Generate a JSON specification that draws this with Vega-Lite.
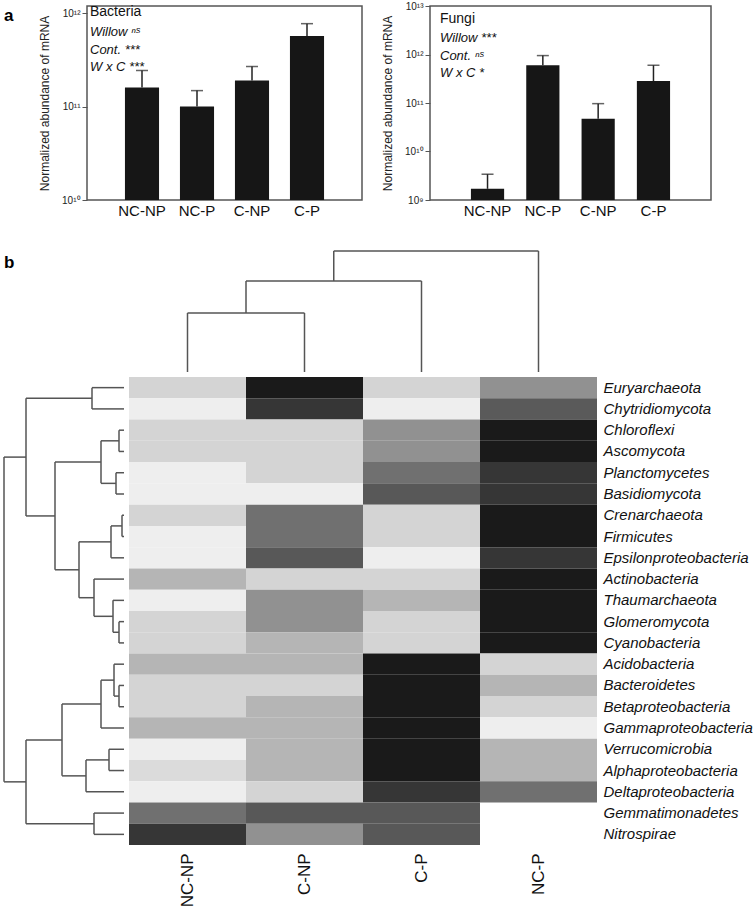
{
  "$schema": "https://vega.github.io/schema/vega-lite/v6.json",
  "background": "white",
  "padding": {"left": 3, "top": 0, "right": 0, "bottom": 0},
  "config": {
    "font": "Liberation Sans",
    "view": {"stroke": null},
    "axis": {"labelFont": "Liberation Sans", "titleFont": "Liberation Sans"},
    "title": {"font": "Liberation Sans", "subtitleFont": "Liberation Sans"}
  },
  "datasets": {
    "bacteria": [
      {"treatment": "NC-NP", "mean": 1.6e11, "upper": 2.43e11},
      {"treatment": "NC-P", "mean": 1.0e11, "upper": 1.48e11},
      {"treatment": "C-NP", "mean": 1.9e11, "upper": 2.68e11},
      {"treatment": "C-P", "mean": 5.7e11, "upper": 7.7e11}
    ],
    "fungi": [
      {"treatment": "NC-NP", "mean": 1.7e9, "upper": 3.4e9},
      {"treatment": "NC-P", "mean": 6.0e11, "upper": 9.5e11},
      {"treatment": "C-NP", "mean": 4.75e10, "upper": 9.7e10},
      {"treatment": "C-P", "mean": 2.84e11, "upper": 6.0e11}
    ],
    "topTree": [
      {"x1": 0.5, "x2": 0.5, "h1": 0, "h2": 59},
      {"x1": 1.5, "x2": 1.5, "h1": 0, "h2": 59},
      {"x1": 0.5, "x2": 1.5, "h1": 59, "h2": 59},
      {"x1": 1.0, "x2": 1.0, "h1": 59, "h2": 91},
      {"x1": 2.5, "x2": 2.5, "h1": 0, "h2": 91},
      {"x1": 1.0, "x2": 2.5, "h1": 91, "h2": 91},
      {"x1": 1.75, "x2": 1.75, "h1": 91, "h2": 121},
      {"x1": 3.5, "x2": 3.5, "h1": 0, "h2": 121},
      {"x1": 1.75, "x2": 3.5, "h1": 121, "h2": 121}
    ],
    "leftTree": [
      {"h1": 32, "h2": 32, "r1": 0.5, "r2": 1.5}, {"h1": 32, "h2": 0, "r1": 0.5, "r2": 0.5}, {"h1": 32, "h2": 0, "r1": 1.5, "r2": 1.5},
      {"h1": 5, "h2": 5, "r1": 2.5, "r2": 3.5}, {"h1": 5, "h2": 0, "r1": 2.5, "r2": 2.5}, {"h1": 5, "h2": 0, "r1": 3.5, "r2": 3.5},
      {"h1": 8, "h2": 8, "r1": 4.5, "r2": 5.5}, {"h1": 8, "h2": 0, "r1": 4.5, "r2": 4.5}, {"h1": 8, "h2": 0, "r1": 5.5, "r2": 5.5},
      {"h1": 23, "h2": 23, "r1": 3, "r2": 5}, {"h1": 23, "h2": 5, "r1": 3, "r2": 3}, {"h1": 23, "h2": 8, "r1": 5, "r2": 5},
      {"h1": 2, "h2": 2, "r1": 6.5, "r2": 7.5}, {"h1": 2, "h2": 0, "r1": 6.5, "r2": 6.5}, {"h1": 2, "h2": 0, "r1": 7.5, "r2": 7.5},
      {"h1": 13, "h2": 13, "r1": 7, "r2": 8.5}, {"h1": 13, "h2": 2, "r1": 7, "r2": 7}, {"h1": 13, "h2": 0, "r1": 8.5, "r2": 8.5},
      {"h1": 5, "h2": 5, "r1": 11.5, "r2": 12.5}, {"h1": 5, "h2": 0, "r1": 11.5, "r2": 11.5}, {"h1": 5, "h2": 0, "r1": 12.5, "r2": 12.5},
      {"h1": 11, "h2": 11, "r1": 10.5, "r2": 12}, {"h1": 11, "h2": 0, "r1": 10.5, "r2": 10.5}, {"h1": 11, "h2": 5, "r1": 12, "r2": 12},
      {"h1": 30, "h2": 30, "r1": 9.5, "r2": 11.25}, {"h1": 30, "h2": 0, "r1": 9.5, "r2": 9.5}, {"h1": 30, "h2": 11, "r1": 11.25, "r2": 11.25},
      {"h1": 45, "h2": 45, "r1": 7.75, "r2": 10.375}, {"h1": 45, "h2": 13, "r1": 7.75, "r2": 7.75}, {"h1": 45, "h2": 30, "r1": 10.375, "r2": 10.375},
      {"h1": 69, "h2": 69, "r1": 4, "r2": 9.0625}, {"h1": 69, "h2": 23, "r1": 4, "r2": 4}, {"h1": 69, "h2": 45, "r1": 9.0625, "r2": 9.0625},
      {"h1": 98, "h2": 98, "r1": 1, "r2": 6.53125}, {"h1": 98, "h2": 32, "r1": 1, "r2": 1}, {"h1": 98, "h2": 69, "r1": 6.53125, "r2": 6.53125},
      {"h1": 5, "h2": 5, "r1": 14.5, "r2": 15.5}, {"h1": 5, "h2": 0, "r1": 14.5, "r2": 14.5}, {"h1": 5, "h2": 0, "r1": 15.5, "r2": 15.5},
      {"h1": 10, "h2": 10, "r1": 13.5, "r2": 15}, {"h1": 10, "h2": 0, "r1": 13.5, "r2": 13.5}, {"h1": 10, "h2": 5, "r1": 15, "r2": 15},
      {"h1": 23, "h2": 23, "r1": 14.25, "r2": 16.5}, {"h1": 23, "h2": 10, "r1": 14.25, "r2": 14.25}, {"h1": 23, "h2": 0, "r1": 16.5, "r2": 16.5},
      {"h1": 15, "h2": 15, "r1": 17.5, "r2": 18.5}, {"h1": 15, "h2": 0, "r1": 17.5, "r2": 17.5}, {"h1": 15, "h2": 0, "r1": 18.5, "r2": 18.5},
      {"h1": 38, "h2": 38, "r1": 18, "r2": 19.5}, {"h1": 38, "h2": 15, "r1": 18, "r2": 18}, {"h1": 38, "h2": 0, "r1": 19.5, "r2": 19.5},
      {"h1": 62, "h2": 62, "r1": 15.375, "r2": 18.75}, {"h1": 62, "h2": 23, "r1": 15.375, "r2": 15.375}, {"h1": 62, "h2": 38, "r1": 18.75, "r2": 18.75},
      {"h1": 30, "h2": 30, "r1": 20.5, "r2": 21.5}, {"h1": 30, "h2": 0, "r1": 20.5, "r2": 20.5}, {"h1": 30, "h2": 0, "r1": 21.5, "r2": 21.5},
      {"h1": 98, "h2": 98, "r1": 17.0625, "r2": 21}, {"h1": 98, "h2": 62, "r1": 17.0625, "r2": 17.0625}, {"h1": 98, "h2": 30, "r1": 21, "r2": 21},
      {"h1": 120, "h2": 120, "r1": 3.765625, "r2": 19.03125}, {"h1": 120, "h2": 98, "r1": 3.765625, "r2": 3.765625}, {"h1": 120, "h2": 98, "r1": 19.03125, "r2": 19.03125}
    ],
    "heat": [
      {"taxon": "Euryarchaeota", "treatment": "NC-NP", "v": 0.11}, {"taxon": "Euryarchaeota", "treatment": "C-NP", "v": 1.0}, {"taxon": "Euryarchaeota", "treatment": "C-P", "v": 0.11}, {"taxon": "Euryarchaeota", "treatment": "NC-P", "v": 0.4},
      {"taxon": "Chytridiomycota", "treatment": "NC-NP", "v": 0.0}, {"taxon": "Chytridiomycota", "treatment": "C-NP", "v": 0.84}, {"taxon": "Chytridiomycota", "treatment": "C-P", "v": 0.0}, {"taxon": "Chytridiomycota", "treatment": "NC-P", "v": 0.66},
      {"taxon": "Chloroflexi", "treatment": "NC-NP", "v": 0.11}, {"taxon": "Chloroflexi", "treatment": "C-NP", "v": 0.11}, {"taxon": "Chloroflexi", "treatment": "C-P", "v": 0.4}, {"taxon": "Chloroflexi", "treatment": "NC-P", "v": 1.0},
      {"taxon": "Ascomycota", "treatment": "NC-NP", "v": 0.11}, {"taxon": "Ascomycota", "treatment": "C-NP", "v": 0.11}, {"taxon": "Ascomycota", "treatment": "C-P", "v": 0.4}, {"taxon": "Ascomycota", "treatment": "NC-P", "v": 1.0},
      {"taxon": "Planctomycetes", "treatment": "NC-NP", "v": 0.0}, {"taxon": "Planctomycetes", "treatment": "C-NP", "v": 0.11}, {"taxon": "Planctomycetes", "treatment": "C-P", "v": 0.55}, {"taxon": "Planctomycetes", "treatment": "NC-P", "v": 0.84},
      {"taxon": "Basidiomycota", "treatment": "NC-NP", "v": 0.0}, {"taxon": "Basidiomycota", "treatment": "C-NP", "v": 0.0}, {"taxon": "Basidiomycota", "treatment": "C-P", "v": 0.67}, {"taxon": "Basidiomycota", "treatment": "NC-P", "v": 0.84},
      {"taxon": "Crenarchaeota", "treatment": "NC-NP", "v": 0.11}, {"taxon": "Crenarchaeota", "treatment": "C-NP", "v": 0.55}, {"taxon": "Crenarchaeota", "treatment": "C-P", "v": 0.11}, {"taxon": "Crenarchaeota", "treatment": "NC-P", "v": 1.0},
      {"taxon": "Firmicutes", "treatment": "NC-NP", "v": 0.0}, {"taxon": "Firmicutes", "treatment": "C-NP", "v": 0.55}, {"taxon": "Firmicutes", "treatment": "C-P", "v": 0.11}, {"taxon": "Firmicutes", "treatment": "NC-P", "v": 1.0},
      {"taxon": "Epsilonproteobacteria", "treatment": "NC-NP", "v": 0.0}, {"taxon": "Epsilonproteobacteria", "treatment": "C-NP", "v": 0.67}, {"taxon": "Epsilonproteobacteria", "treatment": "C-P", "v": 0.0}, {"taxon": "Epsilonproteobacteria", "treatment": "NC-P", "v": 0.84},
      {"taxon": "Actinobacteria", "treatment": "NC-NP", "v": 0.24}, {"taxon": "Actinobacteria", "treatment": "C-NP", "v": 0.11}, {"taxon": "Actinobacteria", "treatment": "C-P", "v": 0.11}, {"taxon": "Actinobacteria", "treatment": "NC-P", "v": 1.0},
      {"taxon": "Thaumarchaeota", "treatment": "NC-NP", "v": 0.0}, {"taxon": "Thaumarchaeota", "treatment": "C-NP", "v": 0.4}, {"taxon": "Thaumarchaeota", "treatment": "C-P", "v": 0.24}, {"taxon": "Thaumarchaeota", "treatment": "NC-P", "v": 1.0},
      {"taxon": "Glomeromycota", "treatment": "NC-NP", "v": 0.11}, {"taxon": "Glomeromycota", "treatment": "C-NP", "v": 0.4}, {"taxon": "Glomeromycota", "treatment": "C-P", "v": 0.11}, {"taxon": "Glomeromycota", "treatment": "NC-P", "v": 1.0},
      {"taxon": "Cyanobacteria", "treatment": "NC-NP", "v": 0.11}, {"taxon": "Cyanobacteria", "treatment": "C-NP", "v": 0.24}, {"taxon": "Cyanobacteria", "treatment": "C-P", "v": 0.11}, {"taxon": "Cyanobacteria", "treatment": "NC-P", "v": 1.0},
      {"taxon": "Acidobacteria", "treatment": "NC-NP", "v": 0.24}, {"taxon": "Acidobacteria", "treatment": "C-NP", "v": 0.24}, {"taxon": "Acidobacteria", "treatment": "C-P", "v": 1.0}, {"taxon": "Acidobacteria", "treatment": "NC-P", "v": 0.11},
      {"taxon": "Bacteroidetes", "treatment": "NC-NP", "v": 0.11}, {"taxon": "Bacteroidetes", "treatment": "C-NP", "v": 0.11}, {"taxon": "Bacteroidetes", "treatment": "C-P", "v": 1.0}, {"taxon": "Bacteroidetes", "treatment": "NC-P", "v": 0.24},
      {"taxon": "Betaproteobacteria", "treatment": "NC-NP", "v": 0.11}, {"taxon": "Betaproteobacteria", "treatment": "C-NP", "v": 0.24}, {"taxon": "Betaproteobacteria", "treatment": "C-P", "v": 1.0}, {"taxon": "Betaproteobacteria", "treatment": "NC-P", "v": 0.11},
      {"taxon": "Gammaproteobacteria", "treatment": "NC-NP", "v": 0.24}, {"taxon": "Gammaproteobacteria", "treatment": "C-NP", "v": 0.24}, {"taxon": "Gammaproteobacteria", "treatment": "C-P", "v": 1.0}, {"taxon": "Gammaproteobacteria", "treatment": "NC-P", "v": 0.0},
      {"taxon": "Verrucomicrobia", "treatment": "NC-NP", "v": 0.0}, {"taxon": "Verrucomicrobia", "treatment": "C-NP", "v": 0.24}, {"taxon": "Verrucomicrobia", "treatment": "C-P", "v": 1.0}, {"taxon": "Verrucomicrobia", "treatment": "NC-P", "v": 0.24},
      {"taxon": "Alphaproteobacteria", "treatment": "NC-NP", "v": 0.08}, {"taxon": "Alphaproteobacteria", "treatment": "C-NP", "v": 0.24}, {"taxon": "Alphaproteobacteria", "treatment": "C-P", "v": 1.0}, {"taxon": "Alphaproteobacteria", "treatment": "NC-P", "v": 0.24},
      {"taxon": "Deltaproteobacteria", "treatment": "NC-NP", "v": 0.0}, {"taxon": "Deltaproteobacteria", "treatment": "C-NP", "v": 0.11}, {"taxon": "Deltaproteobacteria", "treatment": "C-P", "v": 0.84}, {"taxon": "Deltaproteobacteria", "treatment": "NC-P", "v": 0.55},
      {"taxon": "Gemmatimonadetes", "treatment": "NC-NP", "v": 0.55}, {"taxon": "Gemmatimonadetes", "treatment": "C-NP", "v": 0.67}, {"taxon": "Gemmatimonadetes", "treatment": "C-P", "v": 0.67},
      {"taxon": "Nitrospirae", "treatment": "NC-NP", "v": 0.84}, {"taxon": "Nitrospirae", "treatment": "C-NP", "v": 0.4}, {"taxon": "Nitrospirae", "treatment": "C-P", "v": 0.67}
    ]
  },
  "vconcat": [
    {
      "bounds": "flush",
      "spacing": 68,
      "hconcat": [
        {
          "width": 15, "height": 194,
          "title": {"text": "a", "anchor": "start", "frame": "group", "fontSize": 17, "fontWeight": "bold", "offset": -19, "color": "#000"},
          "data": {"values": [{"k": 0}]},
          "mark": {"type": "point", "opacity": 0},
          "encoding": {}
        },
        {
          "width": 275, "height": 194,
          "view": {"stroke": "#555", "strokeWidth": 1.5},
          "title": {"text": "Bacteria", "subtitle": ["Willow ⁿˢ", "Cont. ***", "W x C ***"], "anchor": "start", "frame": "group", "offset": -68, "dx": 3, "fontSize": 14, "fontWeight": "normal", "color": "#111", "subtitleFontSize": 13, "subtitleFontStyle": "italic", "subtitleLineHeight": 17.5, "subtitlePadding": 7, "subtitleColor": "#111"},
          "data": {"name": "bacteria"},
          "encoding": {
            "x": {"field": "treatment", "type": "nominal", "sort": ["NC-NP", "NC-P", "C-NP", "C-P"], "scale": {"paddingInner": 0.38, "paddingOuter": 0.69},
                  "axis": {"title": null, "labelAngle": 0, "ticks": false, "domain": false, "labelFontSize": 15, "labelPadding": 3, "labelColor": "#111"}}
          },
          "layer": [
            {"mark": {"type": "bar", "color": "#161616"},
             "encoding": {
               "y": {"field": "mean", "type": "quantitative", "scale": {"type": "log", "domain": [1e10, 1.19e12], "nice": false},
                     "axis": {"title": "Normalized abundance of mRNA", "values": [1e10, 1e11, 1e12], "labelExpr": "datum.value < 5e10 ? '10¹⁰' : datum.value < 5e11 ? '10¹¹' : '10¹²'", "grid": false, "domain": false, "tickSize": 5, "tickColor": "#555", "labelFontSize": 10, "labelPadding": 2, "labelColor": "#222", "titleFontSize": 12, "titleFontWeight": "normal", "titlePadding": 10, "titleColor": "#222"}},
               "y2": {"datum": 1e10}
             }},
            {"mark": {"type": "rule", "color": "#222", "strokeWidth": 1.5},
             "encoding": {"y": {"field": "mean", "type": "quantitative"}, "y2": {"field": "upper"}}},
            {"mark": {"type": "tick", "color": "#222", "thickness": 1.5, "size": 12},
             "encoding": {"y": {"field": "upper", "type": "quantitative"}}}
          ]
        },
        {
          "width": 281, "height": 194,
          "view": {"stroke": "#555", "strokeWidth": 1.5},
          "title": {"text": "Fungi", "subtitle": ["Willow ***", "Cont. ⁿˢ", "W x C *"], "anchor": "start", "frame": "group", "offset": -79, "dx": 10, "fontSize": 14, "fontWeight": "normal", "color": "#111", "subtitleFontSize": 13, "subtitleFontStyle": "italic", "subtitleLineHeight": 17.5, "subtitlePadding": 6, "subtitleColor": "#111"},
          "data": {"name": "fungi"},
          "encoding": {
            "x": {"field": "treatment", "type": "nominal", "sort": ["NC-NP", "NC-P", "C-NP", "C-P"], "scale": {"paddingInner": 0.4, "paddingOuter": 0.74},
                  "axis": {"title": null, "labelAngle": 0, "ticks": false, "domain": false, "labelFontSize": 15, "labelPadding": 3, "labelColor": "#111"}}
          },
          "layer": [
            {"mark": {"type": "bar", "color": "#161616"},
             "encoding": {
               "y": {"field": "mean", "type": "quantitative", "scale": {"type": "log", "domain": [1e9, 1e13], "nice": false},
                     "axis": {"title": "Normalized abundance of mRNA", "values": [1e9, 1e10, 1e11, 1e12, 1e13], "labelExpr": "datum.value < 5e9 ? '10⁹' : datum.value < 5e10 ? '10¹⁰' : datum.value < 5e11 ? '10¹¹' : datum.value < 5e12 ? '10¹²' : '10¹³'", "grid": false, "domain": false, "tickSize": 5, "tickColor": "#555", "labelFontSize": 10, "labelPadding": 2, "labelColor": "#222", "titleFontSize": 12, "titleFontWeight": "normal", "titlePadding": 10, "titleColor": "#222"}},
               "y2": {"datum": 1e9}
             }},
            {"mark": {"type": "rule", "color": "#222", "strokeWidth": 1.5},
             "encoding": {"y": {"field": "mean", "type": "quantitative"}, "y2": {"field": "upper"}}},
            {"mark": {"type": "tick", "color": "#222", "thickness": 1.5, "size": 12},
             "encoding": {"y": {"field": "upper", "type": "quantitative"}}}
          ]
        }
      ]
    },
    {
      "bounds": "flush",
      "columns": 2,
      "spacing": 5,
      "concat": [
        {
          "width": 120, "height": 140,
          "title": {"text": "b", "anchor": "start", "frame": "group", "fontSize": 17, "fontWeight": "bold", "offset": -40, "color": "#000"},
          "data": {"values": [{"k": 0}]},
          "mark": {"type": "point", "opacity": 0},
          "encoding": {}
        },
        {
          "width": 468, "height": 140,
          "data": {"name": "topTree"},
          "mark": {"type": "rule", "color": "#555", "strokeWidth": 1.5},
          "encoding": {
            "x": {"field": "x1", "type": "quantitative", "scale": {"domain": [0, 4], "nice": false, "zero": false}, "axis": null},
            "x2": {"field": "x2"},
            "y": {"field": "h1", "type": "quantitative", "scale": {"domain": [0, 140], "nice": false}, "axis": null},
            "y2": {"field": "h2"}
          }
        },
        {
          "width": 120, "height": 468,
          "data": {"name": "leftTree"},
          "mark": {"type": "rule", "color": "#555", "strokeWidth": 1.5},
          "encoding": {
            "x": {"field": "h1", "type": "quantitative", "scale": {"domain": [0, 120], "nice": false, "reverse": true}, "axis": null},
            "x2": {"field": "h2"},
            "y": {"field": "r1", "type": "quantitative", "scale": {"domain": [0, 22], "nice": false, "reverse": true}, "axis": null},
            "y2": {"field": "r2"}
          }
        },
        {
          "width": 468, "height": 468,
          "data": {"name": "heat"},
          "mark": {"type": "rect"},
          "encoding": {
            "x": {"field": "treatment", "type": "nominal", "sort": ["NC-NP", "C-NP", "C-P", "NC-P"], "scale": {"paddingInner": 0, "paddingOuter": 0},
                  "axis": {"title": null, "orient": "bottom", "labelAngle": 270, "labelAlign": "right", "labelBaseline": "middle", "ticks": false, "domain": false, "labelFontSize": 17, "labelPadding": 8, "labelColor": "#111"}},
            "y": {"field": "taxon", "type": "nominal",
                  "sort": ["Euryarchaeota", "Chytridiomycota", "Chloroflexi", "Ascomycota", "Planctomycetes", "Basidiomycota", "Crenarchaeota", "Firmicutes", "Epsilonproteobacteria", "Actinobacteria", "Thaumarchaeota", "Glomeromycota", "Cyanobacteria", "Acidobacteria", "Bacteroidetes", "Betaproteobacteria", "Gammaproteobacteria", "Verrucomicrobia", "Alphaproteobacteria", "Deltaproteobacteria", "Gemmatimonadetes", "Nitrospirae"],
                  "scale": {"paddingInner": 0, "paddingOuter": 0},
                  "axis": {"title": null, "orient": "right", "ticks": false, "domain": false, "labelFontSize": 15, "labelFontStyle": "italic", "labelPadding": 6, "labelColor": "#111", "labelLimit": 200}},
            "color": {"field": "v", "type": "quantitative", "scale": {"domain": [0, 1], "range": ["#eeeeee", "#1a1a1a"]}, "legend": null}
          }
        }
      ]
    }
  ],
  "spacing": 13
}
